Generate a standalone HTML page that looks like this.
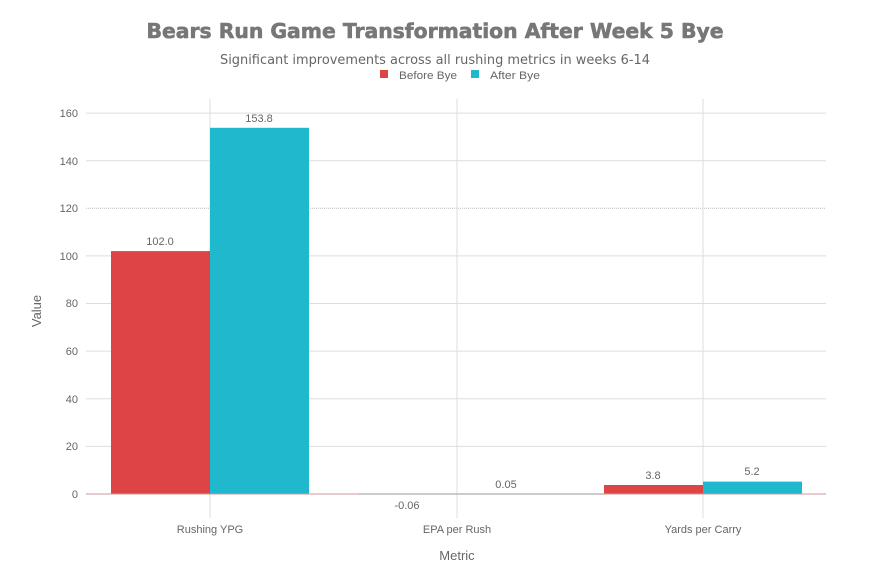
<!DOCTYPE html>
<html><head><style>body{margin:0;background:#fff}svg{display:block;font-family:"Liberation Sans",sans-serif}</style></head><body>
<svg width="870" height="580" xmlns="http://www.w3.org/2000/svg">
<text x="435" y="38" text-anchor="middle" font-size="20" font-weight="bold" fill="#777" stroke="#777" stroke-width="0.6" font-family="DejaVu Sans, sans-serif" textLength="577" lengthAdjust="spacingAndGlyphs">Bears Run Game Transformation After Week 5 Bye</text>
<text x="435" y="64" text-anchor="middle" font-size="13" fill="#666" font-family="DejaVu Sans, sans-serif" textLength="430" lengthAdjust="spacingAndGlyphs">Significant improvements across all rushing metrics in weeks 6-14</text>
<rect x="380" y="70" width="8" height="8" fill="#dc4446"/><text x="399" y="79" font-size="11" fill="#666" textLength="58" lengthAdjust="spacingAndGlyphs">Before Bye</text>
<rect x="471" y="70" width="8" height="8" fill="#20b8cd"/><text x="490" y="79" font-size="11" fill="#666" textLength="50" lengthAdjust="spacingAndGlyphs">After Bye</text>
<g stroke="#ddd" stroke-width="1">
<line x1="86" x2="826" y1="446.4" y2="446.4"/><line x1="86" x2="826" y1="398.8" y2="398.8"/>
<line x1="86" x2="826" y1="351.1" y2="351.1"/><line x1="86" x2="826" y1="303.5" y2="303.5"/>
<line x1="86" x2="826" y1="255.9" y2="255.9"/><line x1="86" x2="826" y1="208.3" y2="208.3" stroke="#bbb" stroke-dasharray="1,1"/>
<line x1="86" x2="826" y1="160.7" y2="160.7"/><line x1="86" x2="826" y1="113.1" y2="113.1"/>
<line x1="210" x2="210" y1="99" y2="518"/><line x1="457" x2="457" y1="99" y2="518"/><line x1="703" x2="703" y1="99" y2="518"/>
</g>
<g font-size="11" fill="#666" text-anchor="end">
<text x="78" y="498">0</text><text x="78" y="450">20</text><text x="78" y="403">40</text><text x="78" y="355">60</text>
<text x="78" y="307">80</text><text x="78" y="260">100</text><text x="78" y="212">120</text><text x="78" y="165">140</text><text x="78" y="117">160</text>
</g>
<rect x="111" y="251.1" width="99" height="242.9" fill="#dc4446"/>
<rect x="210" y="127.8" width="99" height="366.2" fill="#20b8cd"/>
<rect x="604" y="485" width="99" height="9" fill="#dc4446"/>
<rect x="703" y="481.6" width="99" height="12.4" fill="#20b8cd"/>
<line x1="86" x2="358" y1="494" y2="494" stroke="#c99" stroke-width="1"/>
<line x1="358" x2="604" y1="494" y2="494" stroke="#999" stroke-width="1"/>
<line x1="604" x2="826" y1="494" y2="494" stroke="#c99" stroke-width="1"/>
<g font-size="11" fill="#666" text-anchor="middle">
<text x="160" y="245">102.0</text><text x="259" y="122">153.8</text>
<text x="407" y="509">-0.06</text><text x="506" y="488">0.05</text>
<text x="653" y="479">3.8</text><text x="752" y="475">5.2</text>
<text x="210" y="533">Rushing YPG</text><text x="457" y="533">EPA per Rush</text><text x="703" y="533">Yards per Carry</text>
</g>
<text x="457" y="560" text-anchor="middle" font-size="13" fill="#666">Metric</text>
<text transform="translate(41,311) rotate(-90)" text-anchor="middle" font-size="13" fill="#666">Value</text>
</svg>
</body></html>
